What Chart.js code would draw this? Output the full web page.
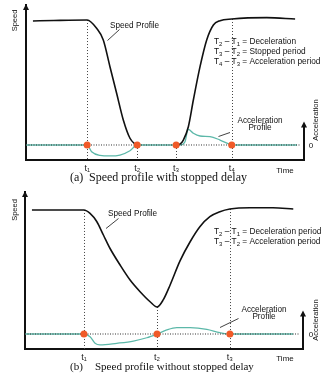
<!DOCTYPE html>
<html>
<head>
<meta charset="utf-8">
<script src="https://cdn.jsdelivr.net/npm/chart.js@4"></script>
<style>
  body { margin: 0; background: #fff; width: 326px; height: 376px; overflow: hidden; }
  canvas { position: absolute; left: 0; }
</style>
</head>
<body>
<canvas id="chart-a" width="326" height="185" style="top:0"></canvas>
<canvas id="chart-b" width="326" height="191" style="top:185px"></canvas>
<script>
// Panel (a): speed profile with stopped delay
const marksA = [22, 40, 54, 74];
const markLabelsA = ['t₁', 't₂', 't₃', 't₄'];
const speedTimeA = [2.5, 10, 22, 25.4, 27.8, 30.2, 32.6, 35, 37.4, 39.2, 40, 47, 54, 55.5, 56.6, 58.4, 60.2, 62.6, 65, 67.4, 69.8, 74, 86.6, 96.8];
const speedValA  = [82.7, 83, 83.3, 77.8, 70, 52.2, 34.5, 16.7, 4.5, 0.7, 0, null, 0, 0.8, 3.3, 12.2, 30, 52.2, 70, 80, 82.9, 84, 84.9, 84];
const accTimeA = [0, 22, 23.6, 26.6, 30.2, 33.8, 37.4, 40, 54, 55.4, 57.2, 58, 58.4, 60.2, 62.6, 66.2, 69.8, 73.4, 74, 97.5];
const accValA  = [0, 0, -4.5, -6.9, -7.3, -6.7, -3.8, 0, 0, 0, 2.2, 8.9, 10.4, 7.8, 6, 5.6, 3.3, 0.4, 0, 0];

// Panel (b): speed profile without stopped delay
const marksB = [21.2, 47.5, 73.7];
const markLabelsB = ['t₁', 't₂', 't₃'];
const speedTimeB = [2.5, 12, 21.2, 23.4, 25.8, 28.2, 30.6, 34.2, 37.8, 41.4, 45, 47.5, 49.7, 52.2, 55.8, 59.4, 62.9, 66.5, 70.1, 73.7, 80.9, 89.2, 96.5];
const speedValB  = [82.7, 82.7, 82.7, 80.4, 75, 66, 57, 46, 36, 28.2, 21.5, 18, 22.7, 32.7, 48.9, 61.5, 71.5, 78.2, 81.5, 83.3, 84.2, 84.2, 83.3];
const accTimeB = [0, 21.2, 23.4, 25.2, 27, 33, 39, 43.8, 47.5, 51, 54.6, 59.4, 65.4, 70.1, 73.7, 96.5];
const accValB  = [0, 0, -1.8, -6.2, -7.3, -6.2, -4.7, -2.5, 0, 2.7, 4.2, 4.2, 3.1, 0.9, 0, 0];

const SANS = '"Liberation Sans", Arial, sans-serif';
const SERIF = '"Liberation Serif", "Times New Roman", serif';

// draw text where "_2" means subscript 2
function subText(ctx, str, x, y, size) {
  const parts = str.split(/_(\d)/);
  let cx = x;
  parts.forEach((p, i) => {
    const sub = i % 2 === 1;
    ctx.font = (sub ? size * 0.72 : size) + 'px ' + SANS;
    ctx.fillText(p, cx, sub ? y + size * 0.32 : y);
    cx += ctx.measureText(p).width;
  });
}

function arrowHead(ctx, x, tipY) {
  ctx.beginPath();
  ctx.moveTo(x, tipY);
  ctx.lineTo(x - 3, tipY + 6);
  ctx.lineTo(x + 3, tipY + 6);
  ctx.closePath();
  ctx.fill();
}

const diagram = {
  id: 'diagram',
  beforeDatasetsDraw(chart, args, o) {
    const { ctx, chartArea, scales: { x, y } } = chart;
    ctx.save();
    ctx.strokeStyle = '#444';
    ctx.lineWidth = 1;
    ctx.setLineDash([1, 2]);
    o.marks.forEach((t) => {
      const px = Math.round(x.getPixelForValue(t)) + 0.5;
      const top = o.speedVal[o.speedTime.indexOf(t)];
      ctx.beginPath();
      ctx.moveTo(px, y.getPixelForValue(top));
      ctx.lineTo(px, chartArea.bottom);
      ctx.stroke();
    });
    ctx.restore();
  },
  afterDraw(chart, args, o) {
    const { ctx, chartArea, scales: { y } } = chart;
    ctx.save();
    ctx.fillStyle = '#111';
    ctx.strokeStyle = '#111';

    // axis arrows
    arrowHead(ctx, chartArea.left, chartArea.top - 1);
    const accTop = y.getPixelForValue(15);
    ctx.lineWidth = 2;
    ctx.beginPath();
    ctx.moveTo(chartArea.right, chartArea.bottom + 1);
    ctx.lineTo(chartArea.right, accTop + 4);
    ctx.stroke();
    arrowHead(ctx, chartArea.right, accTop - 1);

    // axis names
    ctx.textBaseline = 'middle';
    ctx.textAlign = 'center';
    ctx.font = '7.5px ' + SANS;
    ctx.save();
    ctx.translate(15, o.speedLabelY);
    ctx.rotate(-Math.PI / 2);
    ctx.fillText('Speed', 0, 0);
    ctx.restore();
    ctx.save();
    ctx.translate(316, o.accLabelY);
    ctx.rotate(-Math.PI / 2);
    ctx.fillText('Acceleration', 0, 0);
    ctx.restore();
    ctx.font = '8px ' + SANS;
    ctx.fillText('0', 311, y.getPixelForValue(0) + 0.5);
    ctx.fillText('Time', 285, o.timeY);

    // callouts
    ctx.textAlign = 'left';
    ctx.font = '8.2px ' + SANS;
    ctx.fillText('Speed Profile', o.speedNote[0], o.speedNote[1]);
    ctx.textAlign = 'center';
    ctx.fillText('Acceleration', o.accNote[0], o.accNote[1]);
    ctx.fillText('Profile', o.accNote[0], o.accNote[1] + 7.5);
    ctx.lineWidth = 0.8;
    [o.speedLeader, o.accLeader].forEach((l) => {
      ctx.beginPath();
      ctx.moveTo(l[0], l[1]);
      ctx.lineTo(l[2], l[3]);
      ctx.stroke();
    });

    ctx.textAlign = 'left';
    o.formulas.forEach((f, i) => subText(ctx, f, 214, o.formulaY + i * 10, 8.3));

    // caption
    ctx.font = o.captionSize + 'px ' + SERIF;
    ctx.fillText(o.captionTag, 70, o.captionY);
    ctx.fillText(o.caption, o.captionX, o.captionY);
    ctx.restore();
  }
};

function makeChart(id, cfg) {
  return new Chart(document.getElementById(id).getContext('2d'), {
    type: 'line',
    data: {
      datasets: [
        {
          data: cfg.marks.map((t) => ({ x: t, y: 0 })),
          showLine: false,
          pointRadius: 3.5,
          pointBackgroundColor: '#f05a28',
          pointBorderWidth: 0,
          order: 0,
        },
        {
          data: cfg.speedTime.map((t, i) => ({ x: t, y: cfg.speedVal[i] })),
          borderColor: '#111',
          borderWidth: 1.6,
          pointRadius: 0,
          cubicInterpolationMode: 'monotone',
          spanGaps: false,
          order: 1,
        },
        {
          data: [{ x: 0, y: 0 }, { x: 98.5, y: 0 }],
          borderColor: '#333',
          borderWidth: 1,
          borderDash: [1, 1.5],
          pointRadius: 0,
          order: 2,
        },
        {
          data: cfg.accTime.map((t, i) => ({ x: t, y: cfg.accVal[i] })),
          borderColor: '#5cb8a9',
          borderWidth: 1.3,
          pointRadius: 0,
          cubicInterpolationMode: 'monotone',
          order: 3,
        },
      ],
    },
    options: {
      responsive: false,
      animation: false,
      layout: { padding: cfg.padding },
      plugins: { legend: { display: false }, tooltip: { enabled: false }, diagram: cfg.notes },
      scales: {
        x: {
          type: 'linear',
          min: 0,
          max: 100,
          afterFit: (s) => { s.height = cfg.xHeight; },
          afterBuildTicks: (s) => { s.ticks = cfg.marks.map((v) => ({ value: v })); },
          grid: { display: false, drawTicks: false },
          border: { display: true, color: '#111', width: 2 },
          ticks: {
            autoSkip: false,
            maxRotation: 0,
            padding: 3,
            color: '#222',
            font: { family: SANS, size: 9 },
            callback: (v, i) => cfg.markLabels[i],
          },
        },
        y: {
          min: -10,
          max: cfg.yMax,
          afterFit: (s) => { s.width = 0; },
          grid: { display: false, drawTicks: false },
          border: { display: true, color: '#111', width: 2 },
          ticks: { display: false },
        },
      },
    },
    plugins: [diagram],
  });
}

makeChart('chart-a', {
  marks: marksA, markLabels: markLabelsA,
  speedTime: speedTimeA, speedVal: speedValA, accTime: accTimeA, accVal: accValA,
  padding: { left: 26, right: 22, top: 5, bottom: 0 },
  xHeight: 25,
  yMax: 93.33,
  notes: {
    marks: marksA, speedTime: speedTimeA, speedVal: speedValA,
    speedLabelY: 20.5, accLabelY: 120, timeY: 170.5,
    speedNote: [110, 25.5], speedLeader: [119.5, 29.5, 107.5, 40.5],
    accNote: [260, 120.5], accLeader: [230, 132.5, 218.5, 136.5],
    formulas: ['T_2 – T_1 = Deceleration', 'T_3 – T_2 = Stopped period', 'T_4 – T_3 = Acceleration period'],
    formulaY: 42,
    captionTag: '(a)', caption: 'Speed profile with stopped delay', captionX: 89, captionY: 177.5, captionSize: 12,
  },
});

makeChart('chart-b', {
  marks: marksB, markLabels: markLabelsB,
  speedTime: speedTimeB, speedVal: speedValB, accTime: accTimeB, accVal: accValB,
  padding: { left: 25, right: 23, top: 7, bottom: 0 },
  xHeight: 27,
  yMax: 94.67,
  notes: {
    marks: marksB, speedTime: speedTimeB, speedVal: speedValB,
    speedLabelY: 25, accLabelY: 135, timeY: 173.5,
    speedNote: [108, 29], speedLeader: [118.5, 33.5, 106, 43.5],
    accNote: [264, 124.5], accLeader: [238.5, 133.5, 220, 142.5],
    formulas: ['T_2 – T_1 = Deceleration period', 'T_3 – T_2 = Acceleration period'],
    formulaY: 46.7,
    captionTag: '(b)', caption: 'Speed profile without stopped delay', captionX: 95, captionY: 182, captionSize: 11,
  },
});
</script>
</body>
</html>
